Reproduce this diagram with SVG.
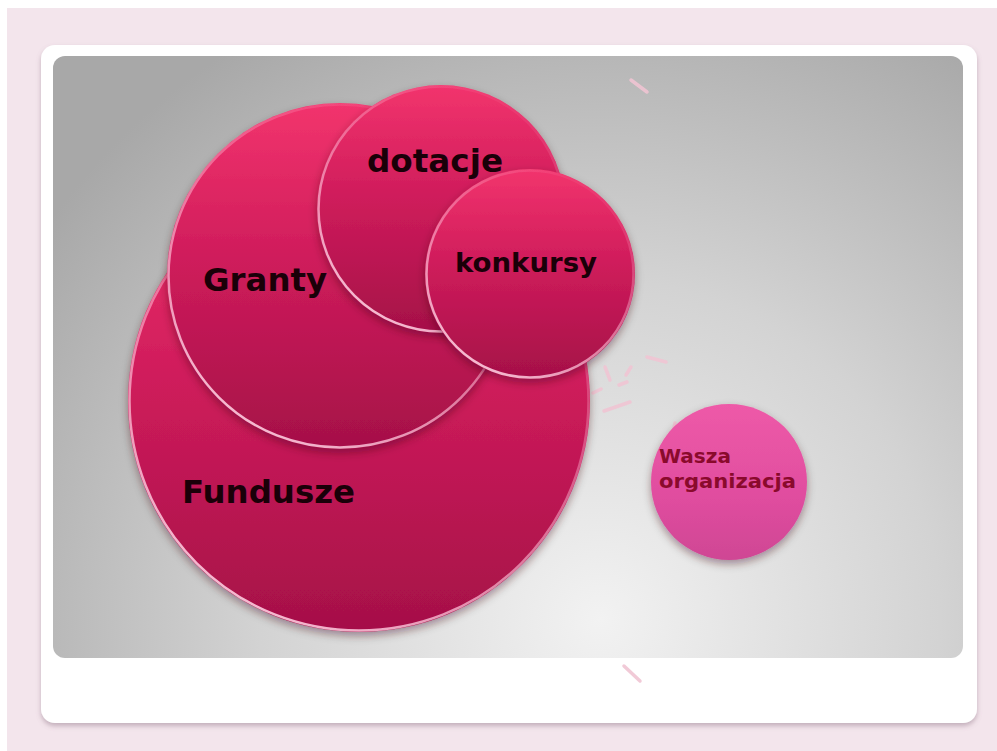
<svg xmlns="http://www.w3.org/2000/svg" width="997" height="751" viewBox="0 0 997 751">
<defs>
  <radialGradient id="panelGrad" gradientUnits="userSpaceOnUse" cx="600" cy="620" r="680">
    <stop offset="0" stop-color="#f2f2f2"/>
    <stop offset="0.5" stop-color="#d3d3d3"/>
    <stop offset="1" stop-color="#a8a8a8"/>
  </radialGradient>
  <linearGradient id="crimson" x1="0" y1="0" x2="0" y2="1">
    <stop offset="0" stop-color="#f2346d"/>
    <stop offset="0.45" stop-color="#cf1c5b"/>
    <stop offset="1" stop-color="#a51048"/>
  </linearGradient>
  <linearGradient id="pinkFill" x1="0" y1="0" x2="0" y2="1">
    <stop offset="0" stop-color="#ee5aa8"/>
    <stop offset="0.6" stop-color="#e04d9f"/>
    <stop offset="1" stop-color="#cf4694"/>
  </linearGradient>
  <linearGradient id="rim" x1="0.8" y1="0" x2="0.2" y2="1">
    <stop offset="0" stop-color="#ffc0d8" stop-opacity="0"/>
    <stop offset="0.45" stop-color="#ffc0d8" stop-opacity="0.45"/>
    <stop offset="1" stop-color="#ffd0e2" stop-opacity="0.95"/>
  </linearGradient>
  <filter id="shadow" x="-20%" y="-20%" width="140%" height="150%">
    <feDropShadow dx="0" dy="4" stdDeviation="4" flood-color="#3a0018" flood-opacity="0.4"/>
  </filter>
  <filter id="cardShadow" x="-5%" y="-5%" width="110%" height="115%">
    <feDropShadow dx="0" dy="3" stdDeviation="2.5" flood-color="#8a7080" flood-opacity="0.45"/>
  </filter>
</defs>
<style>
  .circle { fill: url(#crimson); filter: url(#shadow); }
  .rim { fill: none; stroke: url(#rim); stroke-width: 2.5; }
  .lbl { font-family: "DejaVu Sans", Verdana, sans-serif; font-weight: bold; fill: #1a0008; }
  .small { font-family: "DejaVu Sans", Verdana, sans-serif; font-weight: bold; fill: #8a0a2c; font-size: 20px; }
  .dash { stroke: #f0c4d3; stroke-width: 3.5; stroke-linecap: round; fill: none; opacity: 0.9; }
</style>

<rect x="0" y="0" width="997" height="751" fill="#ffffff"/>
<rect x="7" y="8" width="990" height="743" fill="#f3e5ec"/>
<rect x="41" y="45" width="936" height="678" rx="14" fill="#ffffff" filter="url(#cardShadow)"/>
<rect x="53" y="56" width="910" height="602" rx="12" fill="url(#panelGrad)"/>

<g id="decor">
  <line class="dash" x1="631" y1="80" x2="647" y2="92"/>
  <line class="dash" x1="624" y1="666" x2="640" y2="681"/>
  <line class="dash" x1="647" y1="357" x2="666" y2="362"/>
  <line class="dash" x1="605" y1="367" x2="610" y2="380"/>
  <line class="dash" x1="631" y1="367" x2="626" y2="375"/>
  <line class="dash" x1="619" y1="385" x2="627" y2="382"/>
  <line class="dash" x1="593" y1="393" x2="601" y2="389"/>
  <line class="dash" x1="604" y1="411" x2="630" y2="402"/>
  <line class="dash" x1="675" y1="423" x2="672" y2="437"/>
</g>

<g id="node-fundusze">
  <circle class="circle" cx="359" cy="401" r="231"/>
  <circle class="rim" cx="359" cy="401" r="229.5"/>
  <text class="lbl" x="182" y="503" font-size="32" textLength="173" lengthAdjust="spacingAndGlyphs">Fundusze</text>
</g>

<g id="node-granty">
  <circle class="circle" cx="340" cy="276" r="173"/>
  <circle class="rim" cx="340" cy="276" r="171.5"/>
  <text class="lbl" x="203" y="291" font-size="32" textLength="124" lengthAdjust="spacingAndGlyphs">Granty</text>
</g>

<g id="node-dotacje">
  <circle class="circle" cx="441" cy="209" r="124"/>
  <circle class="rim" cx="441" cy="209" r="122.5"/>
  <text class="lbl" x="367" y="172" font-size="32" textLength="136" lengthAdjust="spacingAndGlyphs">dotacje</text>
</g>

<g id="node-konkursy">
  <circle class="circle" cx="530" cy="274" r="105"/>
  <circle class="rim" cx="530" cy="274" r="103.5"/>
  <text class="lbl" x="455" y="272" font-size="27" textLength="142" lengthAdjust="spacingAndGlyphs">konkursy</text>
</g>

<g id="node-wasza">
  <circle cx="729" cy="482" r="78" fill="url(#pinkFill)" filter="url(#shadow)"/>
  <text class="small" x="659" y="463">Wasza</text>
  <text class="small" x="659" y="488" textLength="137" lengthAdjust="spacingAndGlyphs">organizacja</text>
</g>
</svg>
